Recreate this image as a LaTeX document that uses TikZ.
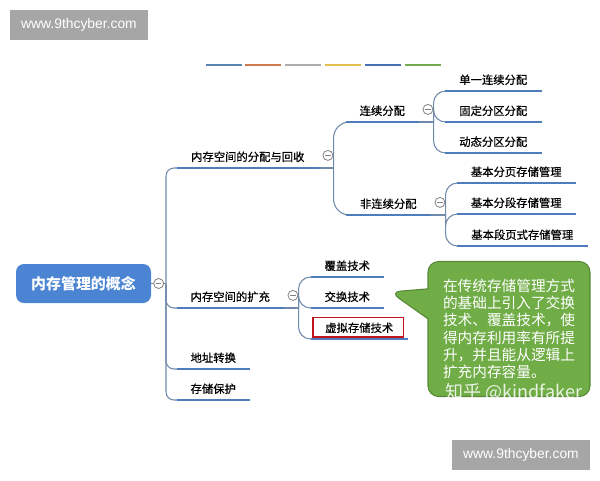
\documentclass[tikz,border=0pt]{standalone}
\usepackage{fontspec}
\setmainfont{Liberation Sans}
\newfontfamily\cjk{Noto Sans CJK SC}
\newfontfamily\cjkmid{Noto Sans CJK SC}[RawFeature={embolden=0.6}]
\usetikzlibrary{positioning,calc,shapes.callouts}

\begin{document}
\begin{tikzpicture}[x=0.75pt,y=0.75pt,yscale=-1,xscale=1,
    wd/.style={minimum width=#1*0.75pt},
    topic/.style={rectangle, inner sep=0pt, minimum height=16.5pt, anchor=south west, font=\cjkmid\fontsize{8.5}{10}\selectfont},
    rootbox/.style={rectangle, rounded corners=6pt, fill={rgb, 255:red, 74; green, 132; blue, 210}, text=white, inner sep=0pt, minimum width=101.25pt, minimum height=29.25pt, font=\cjk\bfseries\fontsize{11.2}{13}\selectfont},
    uline/.style={draw={rgb, 255:red, 79; green, 124; blue, 186}, line width=2.2pt},
    conn/.style={draw={rgb, 255:red, 112; green, 138; blue, 172}, line width=0.8pt, rounded corners=9},
    fold/.style={circle, draw={rgb, 255:red, 128; green, 128; blue, 128}, fill=white, line width=0.6pt, minimum size=7.5pt, inner sep=0pt,
      path picture={\draw[line width=0.5pt, color={rgb, 255:red, 128; green, 128; blue, 128}] ([xshift=-2pt]path picture bounding box.center) -- ([xshift=2pt]path picture bounding box.center);}},
    hilite/.style={draw={rgb, 255:red, 192; green, 20; blue, 30}, line width=0.9pt},
    note/.style={rectangle callout, rounded corners=8pt, fill={rgb, 255:red, 112; green, 173; blue, 71}, draw={rgb, 255:red, 86; green, 136; blue, 54}, line width=0.8pt,
      minimum width=121.5pt, minimum height=101.25pt, callout pointer width=22.5pt, text=white, align=left, font=\cjk\fontsize{11}{13}\selectfont},
    wmark/.style={rectangle, fill={rgb, 255:red, 166; green, 166; blue, 166}, text=white, inner sep=0pt, minimum width=103.5pt, minimum height=22.5pt, font=\fontsize{10.4}{12}\selectfont},
    bar/.style={line width=2pt}
  ]
\useasboundingbox (0,0) rectangle (600,480);

%Watermarks
\node[wmark] (wmtop) at (79,25) {www.9thcyber.com};
\node[wmark] (wmbot) at (521,455) {www.9thcyber.com};

%Straight Lines (colour bar)
\draw [bar, color={rgb, 255:red, 92; green, 132; blue, 182 }] (206,65) -- (242,65) ;
\draw [bar, color={rgb, 255:red, 204; green, 122; blue, 78 }] (245,65) -- (281,65) ;
\draw [bar, color={rgb, 255:red, 172; green, 172; blue, 172 }] (285,65) -- (321,65) ;
\draw [bar, color={rgb, 255:red, 226; green, 190; blue, 78 }] (325,65) -- (361,65) ;
\draw [bar, color={rgb, 255:red, 72; green, 110; blue, 178 }] (365,65) -- (401,65) ;
\draw [bar, color={rgb, 255:red, 118; green, 170; blue, 82 }] (405,65) -- (441,65) ;

%Root
\node[rootbox] (root) at (83.5,283.5) {内存管理的概念};

%Level 1
\node[topic, wd=141] (alloc) at (177,168) {内存空间的分配与回收};
\node[topic, wd=106] (expand) at (177,308) {内存空间的扩充};
\node[topic, wd=72] (addr) at (177,369) {地址转换};
\node[topic, wd=72] (protect) at (177,400) {存储保护};

%Level 2
\node[topic, wd=72] (cont) at (346,122) {连续分配};
\node[topic, wd=84] (noncont) at (346,215) {非连续分配};
\node[topic, wd=72] (cover) at (311,277) {覆盖技术};
\node[topic, wd=72] (swap) at (311,308) {交换技术};
\node[topic, wd=96] (virt) at (311,339) {虚拟存储技术};

%Level 3
\node[topic, wd=96] (single) at (445,91) {单一连续分配};
\node[topic, wd=96] (fixed) at (445,122) {固定分区分配};
\node[topic, wd=96] (dynamic) at (445,153) {动态分区分配};
\node[topic, wd=118] (paging) at (457,183) {基本分页存储管理};
\node[topic, wd=118] (segment) at (457,214) {基本分段存储管理};
\node[topic, wd=130] (segpage) at (457,246) {基本段页式存储管理};

%Connectors
\draw[conn] (root.east) -- (166,283.5) coordinate (trunk);
\foreach \c in {alloc,expand,addr,protect}
  \draw[conn, rounded corners=6] (trunk) |- (\c.south west);
\draw[conn] (alloc.south east) -- ++(15,0) coordinate (b1);
\foreach \c in {cont,noncont}
  \draw[conn, rounded corners=12] (b1) |- (\c.south west);
\draw[conn] (cont.south east) -- ++(15,0) coordinate (b2);
\foreach \c in {single,fixed,dynamic}
  \draw[conn] (b2) |- (\c.south west);
\draw[conn] (noncont.south east) -- ++(15,0) coordinate (b3);
\foreach \c in {paging,segment,segpage}
  \draw[conn] (b3) |- (\c.south west);
\draw[conn] (expand.south east) -- ++(15,0) coordinate (b4);
\foreach \c in {cover,swap,virt}
  \draw[conn] (b4) |- (\c.south west);

%Underlines
\foreach \n in {alloc,expand,addr,protect,cont,noncont,cover,swap,virt,single,fixed,dynamic,paging,segment,segpage}
  \draw[uline] (\n.south west) -- (\n.south east);

%Fold marks
\node[fold, right=1.5pt of root] (froot) {};
\node[fold, right=3pt of alloc, yshift=1pt] (falloc) {};
\node[fold, right=3pt of cont, yshift=1pt] (fcont) {};
\node[fold, right=3pt of noncont, yshift=1pt] (fnoncont) {};
\node[fold, right=3pt of expand, yshift=1pt] (fexpand) {};

%Shape: Rectangle (highlight)
\draw[hilite] ($(virt.south west)+(2,-2)$) rectangle ($(virt.north east)+(-4,1)$);

%Callout
\coordinate (tip) at (390,292);
\node[note, callout absolute pointer={(tip)}] (note) at (509,329) {在传统存储管理方式\\的基础上引入了交换\\技术、覆盖技术，使\\得内存利用率有所提\\升，并且能从逻辑上\\扩充内存容量。};
\node[text=white, text opacity=0.85, inner sep=0pt, font=\cjk\fontsize{13.5}{15}\selectfont] (zhihu) at (514,392) {知乎 @kindfaker};
\end{tikzpicture}
\end{document}
